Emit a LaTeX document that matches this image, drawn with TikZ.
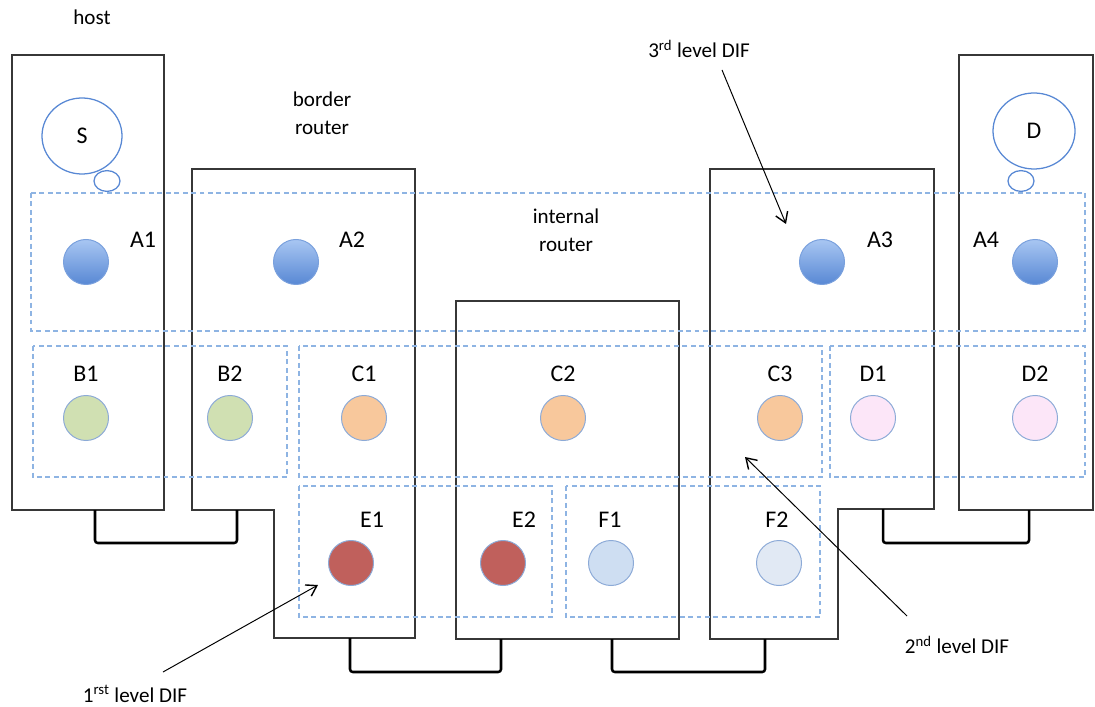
\documentclass[tikz,border=0pt]{standalone}
\usepackage{fontspec}
\setmainfont{Carlito}
\usetikzlibrary{arrows.meta,shapes.geometric}
\definecolor{difblue}{RGB}{142,180,227}
\definecolor{ipcblue}{RGB}{88,136,212}
\definecolor{ipctop}{RGB}{168,198,242}
\definecolor{ipcedge}{RGB}{140,170,215}
\definecolor{ipcgreen}{RGB}{208,224,178}
\definecolor{ipcorange}{RGB}{248,200,156}
\definecolor{ipcpink}{RGB}{252,230,248}
\definecolor{ipcred}{RGB}{192,96,92}
\definecolor{ipcsky}{RGB}{206,222,242}
\definecolor{ipcpale}{RGB}{225,233,244}
\definecolor{boxgray}{RGB}{55,55,55}

\begin{document}
\begin{tikzpicture}[
  x=0.025cm, y=-0.025cm,
  font=\fontsize{15}{20}\selectfont,
  system/.style={draw=boxgray, line width=0.9pt},
  dif/.style={draw=difblue, dash pattern=on 3.5pt off 2.5pt, line width=0.9pt},
  ipc/.style={circle, draw=ipcedge, line width=0.7pt, minimum size=1.125cm, inner sep=0pt},
  bubble/.style={ellipse, draw=ipcblue, line width=0.9pt, inner sep=0pt},
  tag/.style={font=\fontsize{17}{20}\selectfont},
  link/.style={line width=1.8pt, rounded corners=2pt},
  pointer/.style={-{Straight Barb[length=2.5mm,width=3.2mm,line width=1pt]}, line width=0.7pt}
]
\useasboundingbox (0,0) rectangle (1095,707);

% systems: hosts, border routers, internal router
\draw[system] (12,55) rectangle (164,510);
\draw[system] (959,55) rectangle (1093,510);
\draw[system] (192,169) -- (415,169) -- (415,638) -- (274,638) -- (274,510) -- (192,510) -- cycle;
\draw[system] (456,301) rectangle (679,639);
\draw[system] (710,169) -- (934,169) -- (934,509) -- (838,509) -- (838,639) -- (710,639) -- cycle;

% DIFs
\draw[dif] (31,193) rectangle (1085,331);
\draw[dif] (33,346) rectangle (287,477);
\draw[dif] (299,346) rectangle (822,477);
\draw[dif] (830,346) rectangle (1085,477);
\draw[dif] (299,486) rectangle (552,617);
\draw[dif] (566,486) rectangle (820,617);

% applications
\node[bubble, minimum width=2cm, minimum height=1.9cm, font=\fontsize{17}{20}\selectfont] (src) at (82,136) {S};
\node[bubble, minimum width=0.65cm, minimum height=0.52cm] (srcdot) at (107,181) {};
\node[bubble, minimum width=2.05cm, minimum height=1.9cm, font=\fontsize{17}{20}\selectfont] (dst) at (1034,131) {D};
\node[bubble, minimum width=0.65cm, minimum height=0.52cm] (dstdot) at (1021,181) {};

% IPC processes
\foreach \n/\x in {a1/86,a2/296,a3/822,a4/1035}
  \node[ipc, draw=ipcblue!80, top color=ipctop, bottom color=ipcblue] (\n) at (\x,262) {};
\foreach \n/\x/\c in {b1/86/ipcgreen,b2/230/ipcgreen,c1/364/ipcorange,c2/563/ipcorange,
                      c3/780/ipcorange,d1/873/ipcpink,d2/1035/ipcpink}
  \node[ipc, fill=\c] (\n) at (\x,418) {};
\foreach \n/\x/\c in {e1/351/ipcred,e2/503/ipcred,f1/611/ipcsky,f2/779/ipcpale}
  \node[ipc, fill=\c] (\n) at (\x,563) {};

\node[tag] (a1tag) at (143,240) {A1};
\node[tag] (a2tag) at (352,240) {A2};
\node[tag] (a3tag) at (880,240) {A3};
\node[tag] (a4tag) at (986,240) {A4};
\foreach \n/\x/\t in {b1/86/B1,b2/230/B2,c1/364/C1,c2/563/C2,c3/780/C3,d1/873/D1,d2/1035/D2}
  \node[tag] (\n tag) at (\x,374) {\t};
\foreach \n/\x/\t in {e1/372/E1,e2/524/E2,f1/610/F1,f2/777/F2}
  \node[tag] (\n tag) at (\x,520) {\t};

% physical links
\coordinate (hostport) at (95,510);
\coordinate (brlport) at (237,510);
\coordinate (brlport2) at (350,638);
\coordinate (irport) at (501,639);
\coordinate (irport2) at (612,639);
\coordinate (brrport) at (765,639);
\coordinate (brrport2) at (883,509);
\coordinate (dhostport) at (1029,510);
\draw[link] (hostport) -- ++(0,33) -| (brlport);
\draw[link] (brlport2) -- ++(0,34) -| (irport);
\draw[link] (irport2) -- ++(0,33) -| (brrport);
\draw[link] (brrport2) -- ++(0,34) -| (dhostport);

% labels
\node (host) at (92,17) {host};
\node[align=center] (brl) at (322,113) {border\\router};
\node[align=center] (ir) at (566,230) {internal\\router};

\node (dif3) at (699,49) {3\textsuperscript{rd} level DIF};
\node (dif1) at (135,694) {1\textsuperscript{rst} level DIF};
\node (dif2) at (957,645) {2\textsuperscript{nd} level DIF};
\coordinate (dif3tail) at (722,70);
\coordinate (dif3tip) at (786,224);
\coordinate (dif1tail) at (163,672);
\coordinate (dif1tip) at (318,585);
\coordinate (dif2tail) at (907,616);
\coordinate (dif2tip) at (745,457);
\draw[pointer] (dif3tail) -- (dif3tip);
\draw[pointer] (dif1tail) -- (dif1tip);
\draw[pointer] (dif2tail) -- (dif2tip);
\end{tikzpicture}
\end{document}
